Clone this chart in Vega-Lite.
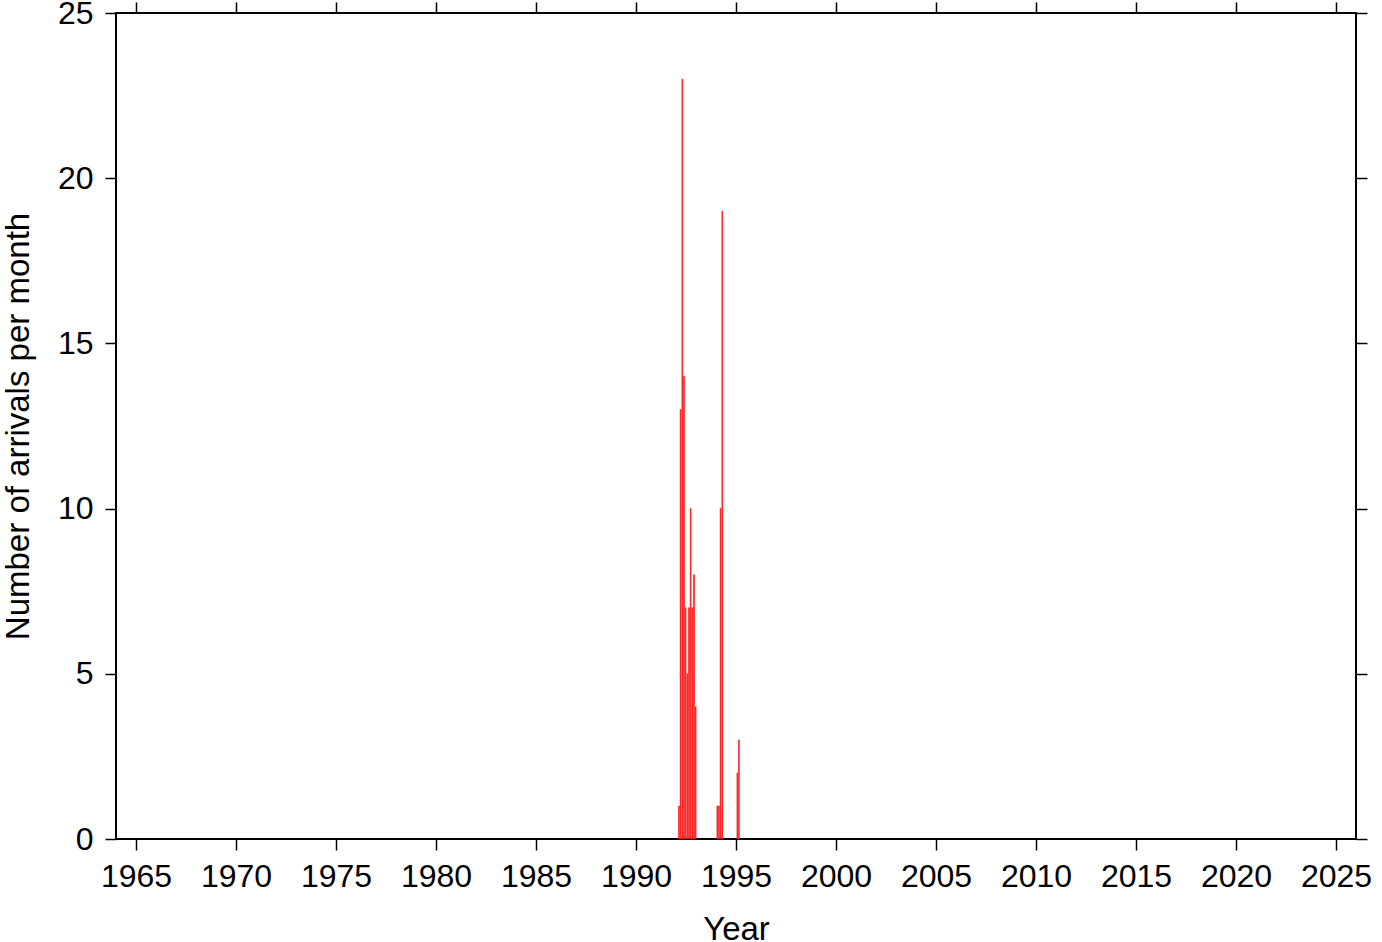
{
  "$schema": "https://vega.github.io/schema/vega-lite/v6.json",
  "width": 1240,
  "height": 826,
  "autosize": {"type": "none"},
  "padding": {"left": 116, "top": 13, "right": 26, "bottom": 103},
  "background": "white",
  "config": {
    "view": {"stroke": "black", "strokeWidth": 2},
    "font": "Liberation Sans",
    "axis": {
      "domain": false,
      "grid": false,
      "ticks": true,
      "tickColor": "black",
      "tickWidth": 1.5,
      "tickSize": 11,
      "labelFontSize": 32,
      "labelColor": "black",
      "labelFont": "Liberation Sans",
      "titleFont": "Liberation Sans",
      "titleFontSize": 33,
      "titleFontWeight": "normal",
      "titleColor": "black"
    }
  },
  "data": {
    "values": [
      {"month": "1992-02-01", "count": 1},
      {"month": "1992-03-01", "count": 13},
      {"month": "1992-04-01", "count": 23},
      {"month": "1992-05-01", "count": 14},
      {"month": "1992-06-01", "count": 7},
      {"month": "1992-07-01", "count": 5},
      {"month": "1992-08-01", "count": 7},
      {"month": "1992-09-01", "count": 10},
      {"month": "1992-10-01", "count": 7},
      {"month": "1992-11-01", "count": 8},
      {"month": "1992-12-01", "count": 4},
      {"month": "1994-01-01", "count": 1},
      {"month": "1994-02-01", "count": 1},
      {"month": "1994-03-01", "count": 10},
      {"month": "1994-04-01", "count": 19},
      {"month": "1995-01-01", "count": 2},
      {"month": "1995-02-01", "count": 3}
    ]
  },
  "encoding": {
    "x": {
      "field": "month",
      "timeUnit": "yearmonth",
      "type": "temporal",
      "scale": {"domain": [{"year": 1964, "month": 1, "date": 1}, {"year": 2026, "month": 1, "date": 1}]}
    },
    "y": {
      "field": "count",
      "type": "quantitative",
      "scale": {"domain": [0, 25], "nice": false, "zero": true}
    }
  },
  "layer": [
    {
      "mark": {"type": "bar", "color": "#ff0000", "stroke": "#ff1a1a", "strokeWidth": 0.8},
      "encoding": {
        "x": {
          "field": "month",
          "timeUnit": "yearmonth",
          "type": "temporal",
          "title": "Year",
          "axis": {
            "orient": "bottom",
            "format": "%Y",
            "labelPadding": 11,
            "titlePadding": 21,
            "values": [
              {"year": 1965, "month": 1, "date": 1}, {"year": 1970, "month": 1, "date": 1},
              {"year": 1975, "month": 1, "date": 1}, {"year": 1980, "month": 1, "date": 1},
              {"year": 1985, "month": 1, "date": 1}, {"year": 1990, "month": 1, "date": 1},
              {"year": 1995, "month": 1, "date": 1}, {"year": 2000, "month": 1, "date": 1},
              {"year": 2005, "month": 1, "date": 1}, {"year": 2010, "month": 1, "date": 1},
              {"year": 2015, "month": 1, "date": 1}, {"year": 2020, "month": 1, "date": 1},
              {"year": 2025, "month": 1, "date": 1}
            ]
          }
        },
        "y": {
          "field": "count",
          "type": "quantitative",
          "title": "Number of arrivals per month",
          "axis": {"orient": "left", "values": [0, 5, 10, 15, 20, 25], "labelPadding": 12, "titlePadding": 22}
        }
      }
    },
    {
      "mark": {"type": "bar", "opacity": 0},
      "encoding": {
        "x": {
          "field": "month",
          "timeUnit": "yearmonth",
          "type": "temporal",
          "title": null,
          "axis": {
            "orient": "top",
            "labels": false,
            "values": [
              {"year": 1965, "month": 1, "date": 1}, {"year": 1970, "month": 1, "date": 1},
              {"year": 1975, "month": 1, "date": 1}, {"year": 1980, "month": 1, "date": 1},
              {"year": 1985, "month": 1, "date": 1}, {"year": 1990, "month": 1, "date": 1},
              {"year": 1995, "month": 1, "date": 1}, {"year": 2000, "month": 1, "date": 1},
              {"year": 2005, "month": 1, "date": 1}, {"year": 2010, "month": 1, "date": 1},
              {"year": 2015, "month": 1, "date": 1}, {"year": 2020, "month": 1, "date": 1},
              {"year": 2025, "month": 1, "date": 1}
            ]
          }
        },
        "y": {
          "field": "count",
          "type": "quantitative",
          "title": null,
          "axis": {"orient": "right", "labels": false, "values": [0, 5, 10, 15, 20, 25]}
        }
      }
    }
  ],
  "resolve": {"axis": {"x": "independent", "y": "independent"}}
}
